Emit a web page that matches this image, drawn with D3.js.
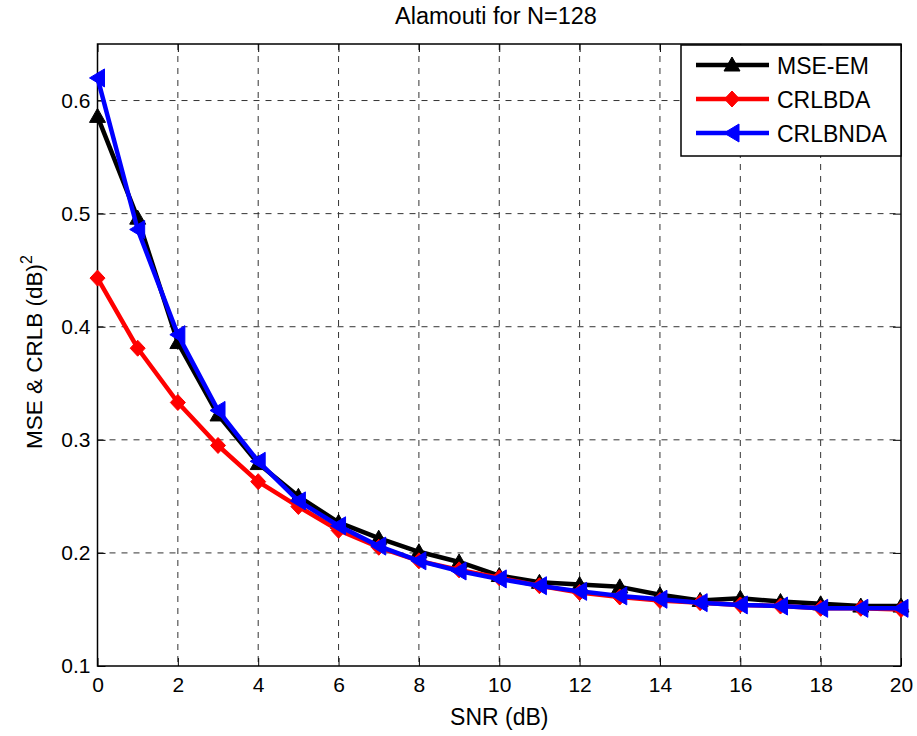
<!DOCTYPE html>
<html>
  <head>
    <meta charset="utf-8">
    <title>Alamouti for N=128</title>
    <script src="https://d3js.org/d3.v7.min.js"></script>
    <style>
      body { margin: 0; background: #fff; }
      text { font-family: "Liberation Sans", Arial, sans-serif; }
    </style>
  </head>
  <body>
    <script>
      // Data
      var snr = [0, 1, 2, 3, 4, 5, 6, 7, 8, 9, 10, 11, 12, 13, 14, 15, 16, 17, 18, 19, 20];
      var mseEM = [0.586, 0.496, 0.386, 0.322, 0.279, 0.250, 0.227, 0.213, 0.201, 0.192, 0.180,
                   0.174, 0.172, 0.170, 0.163, 0.158, 0.160, 0.157, 0.155, 0.153, 0.153];
      var crlbDA = [0.443, 0.381, 0.333, 0.295, 0.263, 0.241, 0.220, 0.205, 0.193, 0.185, 0.178,
                    0.171, 0.165, 0.161, 0.158, 0.156, 0.154, 0.153, 0.151, 0.151, 0.150];
      var crlbNDA = [0.620, 0.486, 0.393, 0.326, 0.281, 0.246, 0.224, 0.206, 0.193, 0.184, 0.177,
                     0.171, 0.166, 0.162, 0.159, 0.156, 0.154, 0.153, 0.151, 0.151, 0.151];
      var xTicks = [0, 2, 4, 6, 8, 10, 12, 14, 16, 18, 20];
      var yTicks = [0.1, 0.2, 0.3, 0.4, 0.5, 0.6];

      var series = [
        { name: "MSE-EM", values: mseEM, color: "#000000", marker: "up" },
        { name: "CRLBDA", values: crlbDA, color: "#ff0000", marker: "diamond" },
        { name: "CRLBNDA", values: crlbNDA, color: "#0000ff", marker: "left" }
      ];

      var W = 917, H = 736;
      var margin = {top: 44, right: 16, bottom: 70, left: 97.5};
      var width = W - margin.left - margin.right;
      var height = H - margin.top - margin.bottom;

      var svg = d3.select("body").append("svg")
                  .attr("width", W)
                  .attr("height", H);

      var g = svg.append("g")
                 .attr("transform", "translate(" + margin.left + "," + margin.top + ")");

      var x = d3.scaleLinear().domain([0, 20]).range([0, width]);
      var y = d3.scaleLinear().domain([0.1, 0.65]).range([height, 0]);

      // grid
      g.append("g").selectAll("line")
       .data(xTicks.slice(1, -1))
       .enter().append("line")
       .attr("x1", function(d) { return x(d); })
       .attr("x2", function(d) { return x(d); })
       .attr("y1", 0).attr("y2", height)
       .attr("stroke", "#333").attr("stroke-width", 1)
       .attr("stroke-dasharray", "6,6");

      g.append("g").selectAll("line")
       .data(yTicks.slice(1))
       .enter().append("line")
       .attr("x1", 0).attr("x2", width)
       .attr("y1", function(d) { return y(d); })
       .attr("y2", function(d) { return y(d); })
       .attr("stroke", "#333").attr("stroke-width", 1)
       .attr("stroke-dasharray", "6,6");

      // axes (inner ticks on all four sides)
      function styleAxis(sel) {
        sel.select(".domain").remove();
        sel.selectAll("line").attr("stroke", "#000");
        sel.selectAll("text").style("font-size", "21px").attr("fill", "#000");
      }
      g.append("g")
       .attr("transform", "translate(0," + height + ")")
       .call(d3.axisBottom(x).tickValues(xTicks).tickSizeInner(-8).tickSizeOuter(0).tickPadding(11).tickFormat(d3.format("d")))
       .call(styleAxis);
      g.append("g")
       .call(d3.axisLeft(y).tickValues(yTicks).tickSizeInner(-8).tickSizeOuter(0).tickPadding(7).tickFormat(d3.format(".1f")))
       .call(styleAxis);
      g.append("g")
       .call(d3.axisTop(x).tickValues(xTicks).tickSizeInner(-8).tickSizeOuter(0).tickFormat(""))
       .call(styleAxis);
      g.append("g")
       .attr("transform", "translate(" + width + ",0)")
       .call(d3.axisRight(y).tickValues(yTicks).tickSizeInner(-8).tickSizeOuter(0).tickFormat(""))
       .call(styleAxis);

      g.append("rect")
       .attr("width", width).attr("height", height)
       .attr("fill", "none").attr("stroke", "#000").attr("stroke-width", 1.5);

      // marker shapes
      function markerPath(type) {
        if (type === "up") return "M0,-8L8,6L-8,6Z";
        if (type === "diamond") return "M0,-8L7.5,0L0,8L-7.5,0Z";
        return "M-8,0L7,-9L7,9Z";
      }

      var line = d3.line()
                   .x(function(d, i) { return x(snr[i]); })
                   .y(function(d) { return y(d); });

      series.forEach(function(s) {
        g.append("path")
         .datum(s.values)
         .attr("d", line)
         .attr("fill", "none")
         .attr("stroke", s.color)
         .attr("stroke-width", 4.5)
         .attr("stroke-linejoin", "round");
        g.selectAll(".m-" + s.marker)
         .data(s.values)
         .enter().append("path")
         .attr("class", "m-" + s.marker)
         .attr("transform", function(d, i) { return "translate(" + x(snr[i]) + "," + y(d) + ")"; })
         .attr("d", markerPath(s.marker))
         .attr("fill", s.color)
         .attr("stroke", s.color)
         .attr("stroke-width", 1);
      });

      // title and axis labels
      svg.append("text")
         .attr("x", 496).attr("y", 24)
         .attr("text-anchor", "middle")
         .style("font-size", "23.5px")
         .text("Alamouti for N=128");

      svg.append("text")
         .attr("x", margin.left + width / 2).attr("y", 725)
         .attr("text-anchor", "middle")
         .style("font-size", "23px")
         .text("SNR (dB)");

      var yl = svg.append("text")
         .attr("transform", "translate(42,352) rotate(-90)")
         .attr("text-anchor", "middle")
         .style("font-size", "22.5px");
      yl.append("tspan").text("MSE & CRLB (dB)");
      yl.append("tspan").attr("dy", -10).style("font-size", "16px").text("2");

      // legend
      var lg = svg.append("g").attr("transform", "translate(681,45)");
      lg.append("rect")
        .attr("width", 220).attr("height", 111)
        .attr("fill", "#fff").attr("stroke", "#000").attr("stroke-width", 1.5);
      series.forEach(function(s, i) {
        var cy = 20 + i * 34;
        lg.append("line")
          .attr("x1", 15).attr("x2", 88).attr("y1", cy).attr("y2", cy)
          .attr("stroke", s.color).attr("stroke-width", 4.5);
        lg.append("path")
          .attr("transform", "translate(51," + cy + ")")
          .attr("d", markerPath(s.marker))
          .attr("fill", s.color).attr("stroke", s.color);
        lg.append("text")
          .attr("x", 96).attr("y", cy + 9)
          .style("font-size", "23px")
          .text(s.name);
      });
    </script>
  </body>
</html>
